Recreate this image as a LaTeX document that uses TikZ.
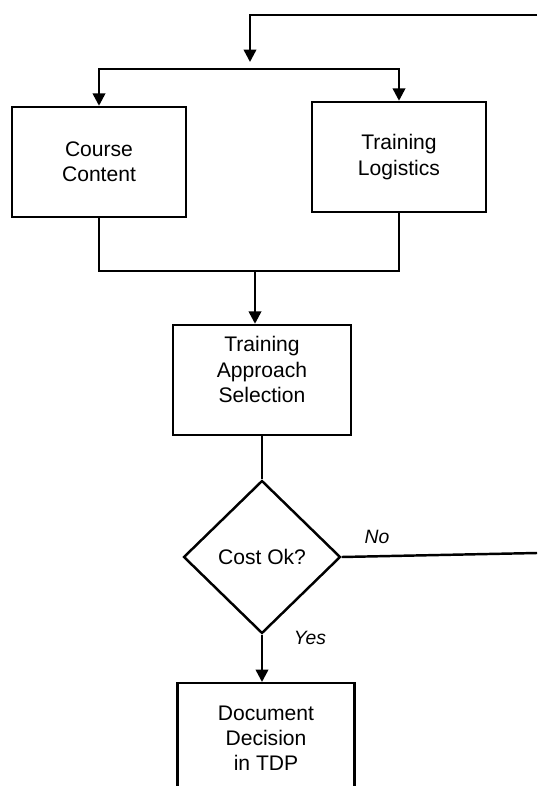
\documentclass[tikz,border=0pt]{standalone}
\usepackage{fontspec}
\setmainfont{Liberation Sans}
\usetikzlibrary{shapes.geometric,arrows.meta}

\begin{document}
\begin{tikzpicture}[x=0.02cm,y=-0.02cm,line width=1.4pt,
    box/.style={draw, rectangle, align=center, font=\fontsize{12}{14.5}\selectfont,
        minimum width=3.48cm, minimum height=2.2cm},
    decide/.style={draw, diamond, aspect=1, inner sep=0pt, font=\fontsize{12}{14.5}\selectfont,
        minimum width=3.14cm, minimum height=3.06cm},
    lbl/.style={font=\fontsize{11}{13}\selectfont\itshape},
    arr/.style={-{Triangle[length=7pt,width=7pt]}}]
    \clip (0,0) rectangle (537,786);
    \node[box] (course) at (99,162) {Course\\Content};
    \node[box] (logistics) at (399,157) {Training\\Logistics};
    \node[box, minimum width=3.56cm, text depth=12pt] (approach) at (262,380) {Training\\Approach\\Selection};
    \node[decide] (cost) at (262,557) {Cost Ok?};
    \node[box, minimum width=3.54cm, anchor=north] (decision) at (266,682) {Document\\Decision\\in TDP};
    \coordinate (topright) at (537,15);
    \coordinate (drop) at (250,62);
    \coordinate (split) at (250,69);
    \coordinate (merge) at (255,271);
    \coordinate (noend) at (537,553);
    \draw[arr] (topright) -| (drop);
    \draw[arr] (split) -| (course.north);
    \draw[arr] (split) -| (logistics.north);
    \draw (course.south) |- (merge) -| (logistics.south);
    \draw[arr] (merge) -- (merge |- approach.north);
    \draw (approach.south) -- (cost.north);
    \draw (cost.east) -- (noend);
    \draw[arr] (cost.south) -- (cost.south |- decision.north);
    \node[lbl] (no) at (377,537) {No};
    \node[lbl] (yes) at (310,638) {Yes};
\end{tikzpicture}
\end{document}
